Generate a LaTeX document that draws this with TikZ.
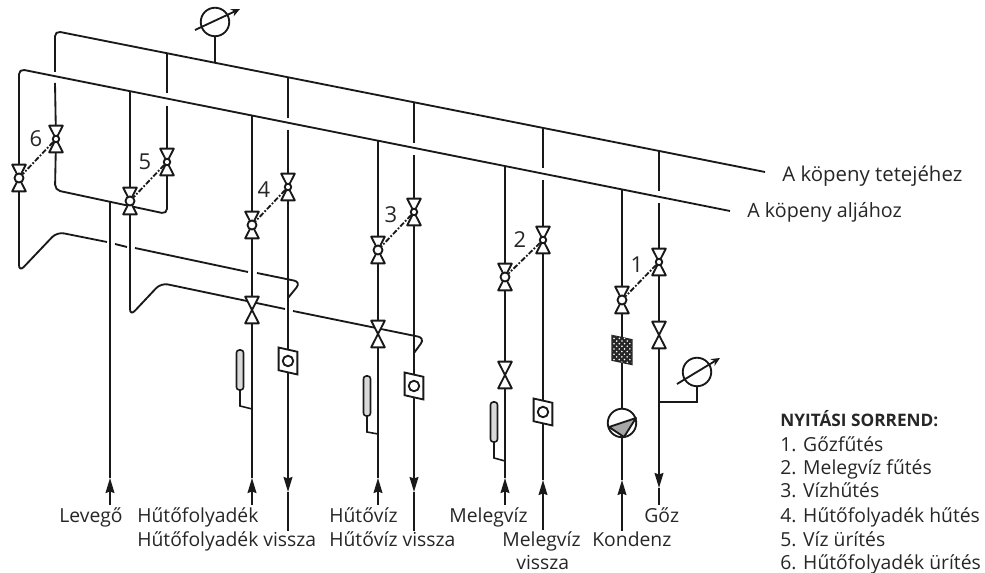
\documentclass[tikz,border=0pt]{standalone}
\usepackage{fontspec}
\setmainfont{Open Sans}
\usetikzlibrary{arrows.meta}
\usetikzlibrary{patterns}
\tikzset{
	pipe/.style={line width=1.05pt, draw=black!90},
	flow/.style={-{Stealth[length=8.5pt,width=5pt,inset=0.8pt]}},
	valve/.style={rectangle, inner sep=0pt, minimum width=0.26cm, minimum height=0.52cm},
	hub/.style={draw=black!90, circle, line width=1.05pt, fill=white, inner sep=0pt, minimum size=0.13cm},
	dial/.style={draw=black!90, circle, line width=1.05pt, fill=white, inner sep=0pt, minimum size=0.57cm},
	sensor/.style={rectangle, inner sep=0pt, minimum width=0.36cm, minimum height=0.44cm},
	lamp/.style={draw=black!90, circle, line width=1.05pt, inner sep=0pt, minimum size=0.21cm},
	probe/.style={draw=black!90, rectangle, rounded corners=1.6pt, line width=0.9pt, fill=black!15, inner sep=0pt, minimum width=0.14cm, minimum height=0.8cm},
	caption/.style={anchor=base west, inner sep=0pt, text=black!85, font=\fontsize{11}{13}\selectfont},
	digit/.style={anchor=center, inner sep=0pt, text=black!85, font=\fontsize{12.5}{14}\selectfont}
}
\begin{document}
\begin{tikzpicture}[x=0.02cm, y=-0.02cm]
	\useasboundingbox (0,0) rectangle (985,573);
	\foreach \n/\x/\y in {vT6/56/139, vA6/19/178, vT5/167/162, vA5/130/201, vT4/288/187, vA4/252/225, vT3/414/212, vA3/378/250, vT2/543/240, vA2/505/277, vT1/659/262, vA1/622/300, vP4/252/310, vP3/378/334, vP2/505/375, vP1/659/335}
		\node[valve] (\n) at (\x,\y) {};
	\foreach \n/\x/\y in {bx4/288/361, bx3/414/386, bx2/543/412}
		\node[sensor] (\n) at (\x,\y) {};
	\node[sensor, minimum width=0.38cm, minimum height=0.48cm] (filter) at (622,350) {};
	\node[dial] (pump) at (622,423) {};
	\node[dial] (gaugeTop) at (215,22) {};
	\node[dial] (gaugeSteam) at (697,372) {};
	\node[probe] (th4) at (240,370) {};
	\node[probe] (th3) at (367,396) {};
	\node[probe] (th2) at (494,422) {};
	\foreach \n/\x/\y in {tA/55/31, tB/765/172, aA/19/69, aB/730/211, hG/215/63, t5/167/53, t4/288/77, t3/414/102, t2/543/128, t1/659/151, a5/130/92, a4/252/116, a3/378/141, a2/505/167, a1/622/190, g6a/55/72, g6b/55/83, g5a/167/93, g5b/167/106, g4a/288/118, g4b/288/130, g3a/414/143, g3b/414/155, g2a/543/168, g2b/543/180, g1a/659/191, g1b/659/203, r6a/55/190, r6b/167/214, lvT/110/202, lvI/110/505, lvH/110/478, s4I/252/505, s4H/252/478, s3I/378/505, s3H/378/478, s2I/505/505, s2H/505/478, s1I/622/531, s1H/622/480, rtI/543/530, rtH/543/480, o4I/288/531, o4H/288/492, o3I/414/531, o3H/414/492, o1I/659/505, o1H/659/488, j4/252/409, k4/240/406, j3/378/434, k3/367/432, j2/505/461, k2/494/458, stT/659/402, stK/697/402, b1a/19/272, b1b/57/232, b1c/107/242, b1d/115/244, b1e/127/247, b1f/135/248, b1g/248/272, b1h/257/273, b1i/301/282, b1j/288/298, b2a/130/316, b2b/161/283, b2c/285/309, b2d/293/311, b2e/425/338, b2f/414/353, gTa/195/30, gTb/240/9, gSa/677/384, gSb/720/358}
		\coordinate (\n) at (\x,\y);
	\draw[pipe, rounded corners=3pt] (g6a) -- (tA) -- (tB);
	\draw[pipe, rounded corners=3pt] (vA6) -- (aA) -- (aB);
	\draw[pipe] (g6b) -- (vT6);
	\draw[pipe, rounded corners=3pt] (vT6) -- (r6a) -- (r6b) -- (vT5);
	\draw[pipe] (vT5) -- (g5b);
	\draw[pipe] (g5a) -- (t5);
	\draw[pipe] (hG) -- (gaugeTop);
	\draw[pipe, rounded corners=4pt] (vA6) -- (b1a) -- (b1b) -- (b1c);
	\draw[pipe] (b1d) -- (b1e);
	\draw[pipe] (b1f) -- (b1g);
	\draw[pipe, rounded corners=4pt] (b1h) -- (b1i) -- (b1j);
	\draw[pipe, rounded corners=4pt] (vA5) -- (b2a) -- (b2b) -- (b2c);
	\draw[pipe, rounded corners=4pt] (b2d) -- (b2e) -- (b2f);
	\draw[pipe] (a5) -- (vA5);
	\draw[pipe] (lvT) -- (lvH);
	\draw[pipe, flow] (lvI) -- (lvH);
	\draw[pipe] (a4) -- (vA4);
	\draw[pipe] (vA4) -- (vP4);
	\draw[pipe] (vP4) -- (s4H);
	\draw[pipe, flow] (s4I) -- (s4H);
	\draw[pipe] (t4) -- (g4a);
	\draw[pipe] (g4b) -- (vT4);
	\draw[pipe] (vT4) -- (bx4);
	\draw[pipe, flow] (bx4) -- (o4H);
	\draw[pipe] (o4H) -- (o4I);
	\draw[pipe] (a3) -- (vA3);
	\draw[pipe] (vA3) -- (vP3);
	\draw[pipe] (vP3) -- (s3H);
	\draw[pipe, flow] (s3I) -- (s3H);
	\draw[pipe] (t3) -- (g3a);
	\draw[pipe] (g3b) -- (vT3);
	\draw[pipe] (vT3) -- (bx3);
	\draw[pipe, flow] (bx3) -- (o3H);
	\draw[pipe] (o3H) -- (o3I);
	\draw[pipe] (a2) -- (vA2);
	\draw[pipe] (vA2) -- (vP2);
	\draw[pipe] (vP2) -- (s2H);
	\draw[pipe, flow] (s2I) -- (s2H);
	\draw[pipe] (t2) -- (g2a);
	\draw[pipe] (g2b) -- (vT2);
	\draw[pipe] (vT2) -- (bx2);
	\draw[pipe] (bx2) -- (rtH);
	\draw[pipe, flow] (rtI) -- (rtH);
	\draw[pipe] (a1) -- (vA1);
	\draw[pipe] (vA1) -- (filter);
	\draw[pipe] (filter) -- (pump);
	\draw[pipe] (pump) -- (s1H);
	\draw[pipe, flow] (s1I) -- (s1H);
	\draw[pipe] (t1) -- (g1a);
	\draw[pipe] (g1b) -- (vT1);
	\draw[pipe] (vT1) -- (vP1);
	\draw[pipe, flow] (vP1) -- (o1H);
	\draw[pipe] (o1H) -- (o1I);
	\draw[pipe] (stT) -- (stK) -- (gaugeSteam);
	\draw[pipe, line width=0.9pt] (th4) -- (k4) -- (j4);
	\draw[pipe, line width=0.9pt] (th3) -- (k3) -- (j3);
	\draw[pipe, line width=0.9pt] (th2) -- (k2) -- (j2);
	\foreach \n in {vT6, vA6, vT5, vA5, vT4, vA4, vT3, vA3, vT2, vA2, vT1, vA1, vP4, vP3, vP2, vP1}
		\draw[pipe, fill=white, line join=round] (\n.north west) -- (\n.south east) -- (\n.south west) -- (\n.north east) -- cycle;
	\foreach \n in {6, 5, 4, 3, 2, 1} {
		\node[hub] (cT\n) at (vT\n) {};
		\node[hub, minimum size=0.18cm] (cA\n) at (vA\n) {};
		\draw[pipe, dash pattern=on 3pt off 1pt on 1pt off 1pt] (cT\n) -- (cA\n);
	}
	\foreach \n in {bx4, bx3, bx2} {
		\draw[pipe, fill=white] ([yshift=1.2pt]\n.north west) -- ([yshift=-1.2pt]\n.north east) -- ([yshift=-1.2pt]\n.south east) -- ([yshift=1.2pt]\n.south west) -- cycle;
		\node[lamp] (\n lamp) at (\n) {};
	}
	\path[fill=black!85, draw=black!85, line width=0.8pt] ([yshift=1.2pt]filter.north west) -- ([yshift=-1.2pt]filter.north east) -- ([yshift=-1.2pt]filter.south east) -- ([yshift=1.2pt]filter.south west) -- cycle;
	\path[pattern=crosshatch dots, pattern color=white] ([yshift=1.2pt]filter.north west) -- ([yshift=-1.2pt]filter.north east) -- ([yshift=-1.2pt]filter.south east) -- ([yshift=1.2pt]filter.south west) -- cycle;
	\draw[pipe, fill=black!35, line join=round] ([shift={(-13,4)}]pump.center) -- ([shift={(14,-5)}]pump.center) -- ([shift={(2,14)}]pump.center) -- cycle;
	\draw[pipe, -{Stealth[length=5pt,width=4.5pt]}] (gTa) -- (gTb);
	\draw[pipe, -{Stealth[length=5pt,width=4.5pt]}] (gSa) -- (gSb);
	\node[digit] (n6) at (36,139) {6};
	\node[digit] (n5) at (145,162) {5};
	\node[digit] (n4) at (264,190) {4};
	\node[digit] (n3) at (391,215) {3};
	\node[digit] (n2) at (520,240) {2};
	\node[digit] (n1) at (637,265) {1};
	\node[caption, font=\fontsize{11.6}{14}\selectfont] (lblTop) at (782,182) {A köpeny tetejéhez};
	\node[caption, font=\fontsize{11.2}{14}\selectfont] (lblBot) at (747,218) {A köpeny aljához};
	\node[caption] (lev) at (59,523) {Levegő};
	\node[caption] (hf) at (137,523) {Hűtőfolyadék};
	\node[caption] (hfv) at (137,547) {Hűtőfolyadék vissza};
	\node[caption] (hv) at (329,523) {Hűtővíz};
	\node[caption] (hvv) at (329,547) {Hűtővíz vissza};
	\node[caption] (mv) at (449,523) {Melegvíz};
	\node[caption] (mvv) at (502,547) {Melegvíz};
	\node[caption] (mvw) at (516,570) {vissza};
	\node[caption] (kond) at (592,547) {Kondenz};
	\node[caption] (goz) at (644,523) {Gőz};
	\node[caption, font=\fontsize{9.8}{12}\selectfont\bfseries] (head) at (780,427) {NYITÁSI SORREND:};
	\node[caption] (s1) at (780,452) {1. Gőzfűtés};
	\node[caption] (s2) at (780,475) {2. Melegvíz fűtés};
	\node[caption] (s3) at (780,498) {3. Vízhűtés};
	\node[caption] (s4) at (780,523) {4. Hűtőfolyadék hűtés};
	\node[caption] (s5) at (780,547) {5. Víz ürítés};
	\node[caption] (s6) at (780,570) {6. Hűtőfolyadék ürítés};
\end{tikzpicture}
\end{document}
